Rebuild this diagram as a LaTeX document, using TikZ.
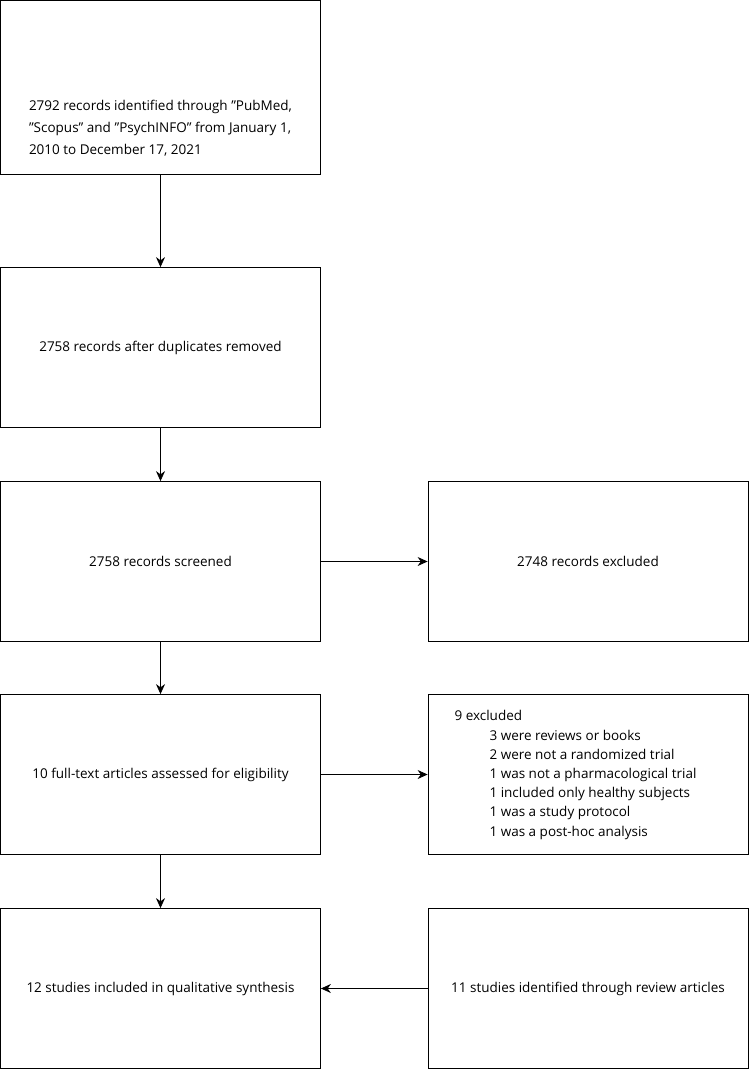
\documentclass[tikz,border=0pt]{standalone}
\usepackage{fontspec}
\setmainfont{Open Sans}[Ligatures=NoCommon]
\usetikzlibrary{arrows.meta}

\tikzset{
  flowbox/.style={draw, line width=0.8pt, minimum width=320, minimum height=160, inner sep=0, font=\fontsize{13.5}{22}\selectfont},
  flowarrow/.style={line width=0.8pt, -{Stealth[length=10pt, width=9pt]}}
}

\begin{document}
\begin{tikzpicture}[x=1pt, y=-1pt]
\useasboundingbox (0,0) rectangle (749,1070);
% left column
\node[flowbox, minimum height=174](recid) at (160.5,87.5) {};
\node[font=\fontsize{13.5}{22}\selectfont, align=left](recidtext) at (160.5,128) {2792 records identified through \char34 PubMed,\\ \char34 Scopus\char34{} and \char34 PsychINFO\char34{} from January 1,\\ 2010 to December 17, 2021};
\node[flowbox](dupl) at (160.5,347.5) {2758 records after duplicates removed};
\node[flowbox](screen) at (160.5,561.5) {2758 records screened};
\node[flowbox](full) at (160.5,774.5) {10 full-text articles assessed for eligibility};
\node[flowbox](incl) at (160.5,988.5) {12 studies included in qualitative synthesis};
% right column
\node[flowbox](excl) at (588,561.5) {2748 records excluded};
\node[flowbox](fullexcl) at (588,774.5) {};
\node[font=\fontsize{13.5}{19.2}\selectfont, align=left, anchor=north west](fullexcltext) at (451,707) {9 excluded\\
\hspace*{35pt}3 were reviews or books\\
\hspace*{35pt}2 were not a randomized trial\\
\hspace*{35pt}1 was not a pharmacological trial\\
\hspace*{35pt}1 included only healthy subjects\\
\hspace*{35pt}1 was a study protocol\\
\hspace*{35pt}1 was a post-hoc analysis};
\node[flowbox](review) at (588,988.5) {11 studies identified through review articles};
% arrows
\draw[flowarrow] (recid) -- (dupl);
\draw[flowarrow] (dupl) -- (screen);
\draw[flowarrow] (screen) -- (full);
\draw[flowarrow] (full) -- (incl);
\draw[flowarrow] (screen) -- (excl);
\draw[flowarrow] (full) -- (fullexcl);
\draw[flowarrow] (review) -- (incl);
\end{tikzpicture}
\end{document}
